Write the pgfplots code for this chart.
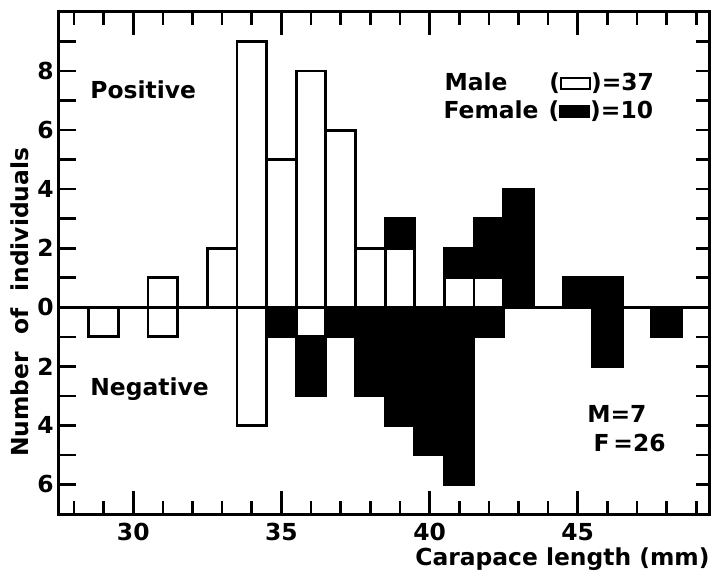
\documentclass[border=0pt]{standalone}
\usepackage{pgfplots}
\pgfplotsset{compat=1.18}
\usepackage{pgfplotstable}
\usepackage{fontspec}
\setmainfont{DejaVu Sans}

\newcommand{\lab}{\fontsize{11.7}{14}\selectfont\bfseries}
% legend keys: an outlined box for males, a solid box for females
\newcommand{\whitebox}{\raisebox{1.3pt}{\setlength{\fboxsep}{0pt}\setlength{\fboxrule}{1.2pt}\fbox{\rule{0pt}{4.2pt}\rule{13.1pt}{0pt}}}}
\newcommand{\blackbox}{\raisebox{0.1pt}{\rule{15.5pt}{6.6pt}}}

% carapace length (mm), males/females positive and negative
\pgfplotstableread{
len mpos fpos mneg fneg
29  0    0    1    0
31  1    0    1    0
33  2    0    0    0
34  9    0    4    0
35  5    0    0    1
36  8    0    1    2
37  6    0    0    1
38  2    0    0    3
39  2    1    0    4
40  0    0    0    5
41  1    1    0    6
42  1    2    0    1
43  0    4    0    0
45  0    1    0    0
46  0    1    0    2
48  0    0    0    1
}\counts

\begin{document}
\begin{tikzpicture}
\pgfplotsset{
  base/.style={
    scale only axis, width=325.5pt, height=251pt,
    xmin=27.46, xmax=49.43, ymin=-7, ymax=10,
    at={(0,0)}, anchor=south west,
    tick align=inside,
    axis line style={line width=1.5pt},
    tick style={line width=1.3pt, black},
  },
  bars/.style={ybar, bar width=1, bar shift=0pt, draw=black, line width=1.4pt},
}
\begin{axis}[base, clip=false, axis on top,
  xtick={30,35,40,45}, minor xtick={28,...,49},
  xtick pos=both, xticklabel pos=bottom,
  xtick style={/pgfplots/major tick length=11.5pt, /pgfplots/minor tick length=6.75pt},
  ytick={-7,...,9}, yticklabels={,6,,4,,2,,0,,2,,4,,6,,8,},
  ytick pos=left,
  ytick style={/pgfplots/major tick length=9pt},
  ticklabel style={font=\lab, inner sep=0pt},
  xticklabel style={yshift=-4.5pt},
  yticklabel style={xshift=-2pt},
  /pgf/number format/assume math mode=true,
]
% positive: females stacked on males
\addplot[bars, fill=black] table[x=len, y expr=\thisrow{mpos}+\thisrow{fpos}] {\counts};
\addplot[bars, fill=white] table[x=len, y=mpos] {\counts};
% negative: females below males
\addplot[bars, fill=black] table[x=len, y expr=-(\thisrow{mneg}+\thisrow{fneg})] {\counts};
\addplot[bars, fill=white] table[x=len, y expr=-\thisrow{mneg}] {\counts};

\draw[line width=1.5pt] (axis cs:27.46,0) -- (axis cs:49.43,0);

\begin{scope}[every node/.style={font=\lab, inner sep=0pt}]
\node[anchor=base west] at (axis cs:28.54,7.08) {Positive};
\node[anchor=base west] at (axis cs:28.54,-2.98) {Negative};
\node[anchor=base west] at (axis cs:40.49,7.35) {Male};
\node[anchor=base west] at (axis cs:44.03,7.35) {(\whitebox)=37};
\node[anchor=base west] at (axis cs:40.46,6.40) {Female};
\node[anchor=base west] at (axis cs:44.00,6.40) {(\blackbox)=10};
\node[anchor=base west] at (axis cs:45.31,-3.89) {M=7};
\node[anchor=base west] at (axis cs:45.52,-4.88) {F\,=26};
\node[anchor=base east] at (axis cs:49.46,-8.74) {Carapace length (mm)};
\node[anchor=base, rotate=90] at (axis cs:26.48,0.17) {Number\hspace{4.5pt} of\hspace{4.5pt} individuals};
\end{scope}
\end{axis}
% inward ticks on the right-hand side
\begin{axis}[base, axis x line=none, axis y line*=right,
  ytick={-7,...,10}, yticklabels={},
  ytick style={/pgfplots/major tick length=6.5pt},
]
\end{axis}
\pgfresetboundingbox
\path (-29pt,-29.5pt) rectangle (326.5pt,257pt);
\end{tikzpicture}
\end{document}
